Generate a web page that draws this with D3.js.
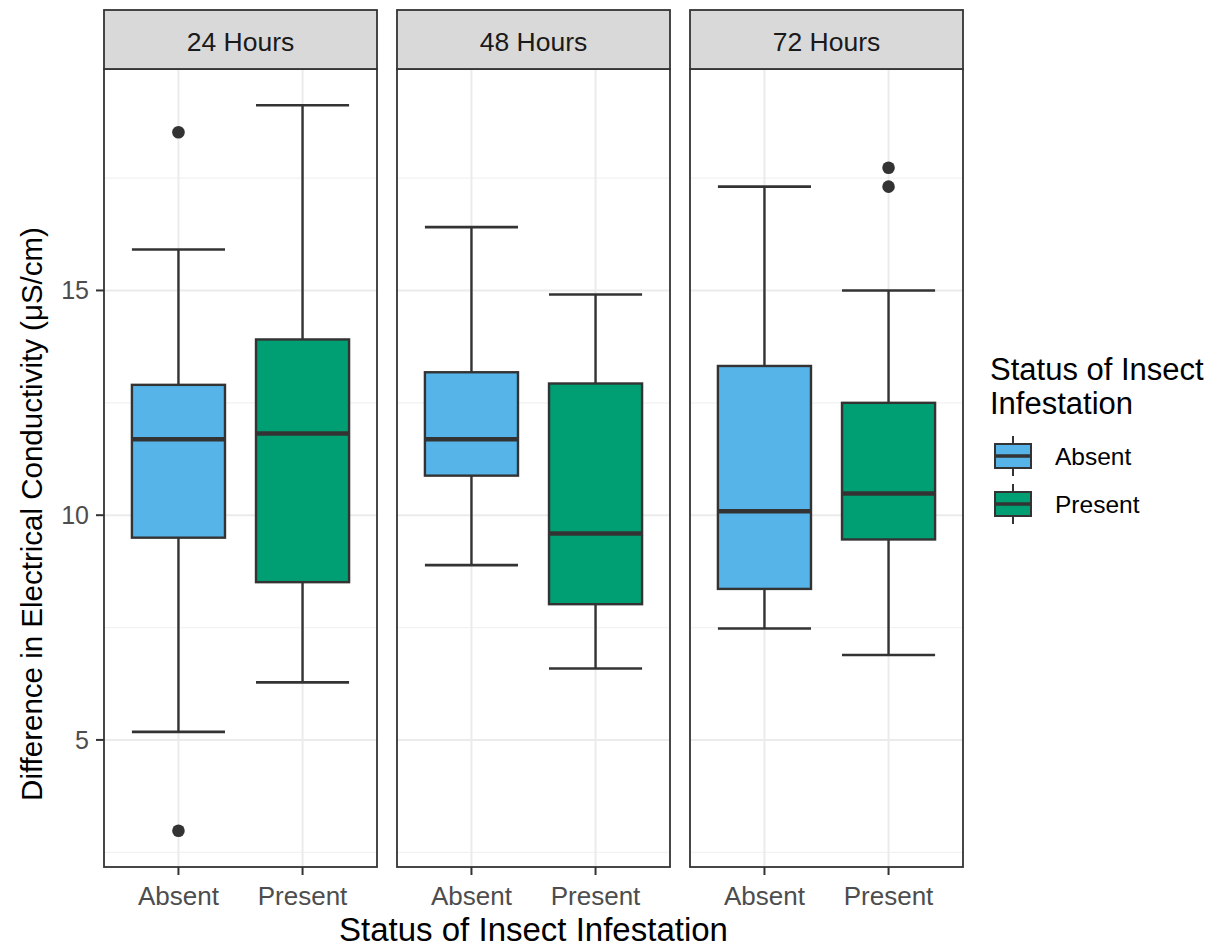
<!DOCTYPE html>
<html>
<head>
<meta charset="utf-8">
<script src="https://cdn.jsdelivr.net/npm/d3@7"></script>
<style>
  body { margin: 0; background: #fff; }
  text { font-family: "Liberation Sans", Arial, sans-serif; }
</style>
</head>
<body>
<div id="chart"></div>
<script>
// facets and groups
var facets = ["24 Hours", "48 Hours", "72 Hours"];
var groups = ["Absent", "Present"];
var groupColors = ["#56B4E9", "#009E73"];

// box stats, one row per facet, [Absent, Present]
var whiskerLow  = [[5.18, 6.28], [8.89, 6.59], [7.48, 6.89]];
var q1          = [[9.50, 8.51], [10.88, 8.02], [8.36, 9.46]];
var medians     = [[11.69, 11.82], [11.69, 9.59], [10.09, 10.48]];
var q3          = [[12.90, 13.91], [13.18, 12.93], [13.32, 12.50]];
var whiskerHigh = [[15.91, 19.12], [16.41, 14.91], [17.31, 15.00]];
var outliers    = [[[18.52, 2.98], []], [[], []], [[], [17.73, 17.31]]];

var yTicks = [5, 10, 15];
var yMinor = [2.5, 7.5, 12.5, 17.5];

var W = 1211, H = 951;
var margin = {top: 10, left: 104};
var panelW = 273, panelGap = 20, stripH = 59, panelH = 798;
var panelTop = margin.top + stripH;

var svg = d3.select("#chart").append("svg")
    .attr("width", W)
    .attr("height", H);

// y scale from the data range with ggplot-style 5% expansion
var allVals = [];
facets.forEach(function(f, i) {
    groups.forEach(function(g, j) {
        allVals.push(whiskerLow[i][j], whiskerHigh[i][j]);
        outliers[i][j].forEach(function(v) { allVals.push(v); });
    });
});
var ext = d3.extent(allVals);
var pad = (ext[1] - ext[0]) * 0.05;
var y = d3.scaleLinear()
    .domain([ext[0] - pad, ext[1] + pad])
    .range([panelTop + panelH, panelTop]);

// discrete x: 0.6 units padding each side
var x = d3.scaleLinear()
    .domain([0.4, 2.6])
    .range([0, panelW]);
var boxHalf = (x(1.375) - x(1));

var dark = "#333333";
var lw = 2.4;

facets.forEach(function(f, i) {
    var px = margin.left + i * (panelW + panelGap);
    var g = svg.append("g").attr("transform", "translate(" + px + ",0)");

    // panel background + grid
    g.append("rect")
        .attr("x", 0).attr("y", panelTop)
        .attr("width", panelW).attr("height", panelH)
        .attr("fill", "#fff");

    g.selectAll(".minor").data(yMinor).enter().append("line")
        .attr("x1", 0).attr("x2", panelW)
        .attr("y1", function(d) { return y(d); })
        .attr("y2", function(d) { return y(d); })
        .attr("stroke", "#F2F2F2").attr("stroke-width", 1.3);

    g.selectAll(".major").data(yTicks).enter().append("line")
        .attr("x1", 0).attr("x2", panelW)
        .attr("y1", function(d) { return y(d); })
        .attr("y2", function(d) { return y(d); })
        .attr("stroke", "#EBEBEB").attr("stroke-width", 2);

    g.selectAll(".xmajor").data(groups).enter().append("line")
        .attr("x1", function(d, j) { return x(j + 1); })
        .attr("x2", function(d, j) { return x(j + 1); })
        .attr("y1", panelTop).attr("y2", panelTop + panelH)
        .attr("stroke", "#EBEBEB").attr("stroke-width", 2);

    // boxes
    groups.forEach(function(gr, j) {
        var cx = x(j + 1);
        var bg = g.append("g");
        // whiskers
        bg.append("line")
            .attr("x1", cx).attr("x2", cx)
            .attr("y1", y(whiskerHigh[i][j])).attr("y2", y(q3[i][j]))
            .attr("stroke", dark).attr("stroke-width", lw);
        bg.append("line")
            .attr("x1", cx).attr("x2", cx)
            .attr("y1", y(q1[i][j])).attr("y2", y(whiskerLow[i][j]))
            .attr("stroke", dark).attr("stroke-width", lw);
        // caps
        [whiskerHigh[i][j], whiskerLow[i][j]].forEach(function(v) {
            bg.append("line")
                .attr("x1", cx - boxHalf).attr("x2", cx + boxHalf)
                .attr("y1", y(v)).attr("y2", y(v))
                .attr("stroke", dark).attr("stroke-width", 2.6);
        });
        // box
        bg.append("rect")
            .attr("x", cx - boxHalf)
            .attr("y", y(q3[i][j]))
            .attr("width", boxHalf * 2)
            .attr("height", y(q1[i][j]) - y(q3[i][j]))
            .attr("fill", groupColors[j])
            .attr("stroke", dark).attr("stroke-width", lw);
        // median
        bg.append("line")
            .attr("x1", cx - boxHalf).attr("x2", cx + boxHalf)
            .attr("y1", y(medians[i][j])).attr("y2", y(medians[i][j]))
            .attr("stroke", dark).attr("stroke-width", 4.5);
        // outliers
        bg.selectAll("circle").data(outliers[i][j]).enter().append("circle")
            .attr("cx", cx)
            .attr("cy", function(d) { return y(d); })
            .attr("r", 6.3)
            .attr("fill", dark);
    });

    // panel border
    g.append("rect")
        .attr("x", 0).attr("y", panelTop)
        .attr("width", panelW).attr("height", panelH)
        .attr("fill", "none")
        .attr("stroke", dark).attr("stroke-width", 1.8);

    // strip
    g.append("rect")
        .attr("x", 0).attr("y", margin.top)
        .attr("width", panelW).attr("height", stripH)
        .attr("fill", "#D9D9D9")
        .attr("stroke", dark).attr("stroke-width", 1.8);
    g.append("text")
        .attr("x", panelW / 2).attr("y", margin.top + stripH / 2 + 11)
        .attr("text-anchor", "middle")
        .attr("font-size", 26.5)
        .attr("fill", "#1A1A1A")
        .text(f);

    // x axis ticks + labels
    var xa = g.append("g").attr("transform", "translate(0," + (panelTop + panelH) + ")");
    groups.forEach(function(gr, j) {
        xa.append("line")
            .attr("x1", x(j + 1)).attr("x2", x(j + 1))
            .attr("y1", 0).attr("y2", 8)
            .attr("stroke", dark).attr("stroke-width", 2);
        xa.append("text")
            .attr("x", x(j + 1)).attr("y", 38)
            .attr("text-anchor", "middle")
            .attr("font-size", 26)
            .attr("fill", "#4D4D4D")
            .text(gr);
    });
});

// y axis
var ya = svg.append("g").attr("transform", "translate(" + margin.left + ",0)");
yTicks.forEach(function(t) {
    ya.append("line")
        .attr("x1", -8).attr("x2", 0)
        .attr("y1", y(t)).attr("y2", y(t))
        .attr("stroke", dark).attr("stroke-width", 2);
    ya.append("text")
        .attr("x", -15).attr("y", y(t) + 9)
        .attr("text-anchor", "end")
        .attr("font-size", 25)
        .attr("fill", "#4D4D4D")
        .text(t);
});

// axis titles
var plotMidX = margin.left + (3 * panelW + 2 * panelGap) / 2;
svg.append("text")
    .attr("x", plotMidX).attr("y", 941)
    .attr("text-anchor", "middle")
    .attr("font-size", 33)
    .attr("fill", "#000")
    .text("Status of Insect Infestation");

svg.append("text")
    .attr("transform", "translate(42,514) rotate(-90)")
    .attr("text-anchor", "middle")
    .attr("font-size", 29.5)
    .attr("fill", "#000")
    .text("Difference in Electrical Conductivity (μS/cm)");

// legend
var lg = svg.append("g").attr("transform", "translate(990,0)");
lg.append("text").attr("x", 0).attr("y", 380)
    .attr("font-size", 31).attr("fill", "#000").text("Status of Insect");
lg.append("text").attr("x", 0).attr("y", 414)
    .attr("font-size", 31).attr("fill", "#000").text("Infestation");

groups.forEach(function(gr, j) {
    var cy = 456 + j * 48;
    var kx = 23;
    lg.append("line")
        .attr("x1", kx).attr("x2", kx)
        .attr("y1", cy - 20).attr("y2", cy + 20)
        .attr("stroke", dark).attr("stroke-width", 2);
    lg.append("rect")
        .attr("x", kx - 18).attr("y", cy - 12)
        .attr("width", 36).attr("height", 24)
        .attr("fill", groupColors[j])
        .attr("stroke", dark).attr("stroke-width", 2);
    lg.append("line")
        .attr("x1", kx - 18).attr("x2", kx + 18)
        .attr("y1", cy).attr("y2", cy)
        .attr("stroke", dark).attr("stroke-width", 3.5);
    lg.append("text")
        .attr("x", 65).attr("y", cy + 8.5)
        .attr("font-size", 24.5)
        .attr("fill", "#000")
        .text(gr);
});
</script>
</body>
</html>
